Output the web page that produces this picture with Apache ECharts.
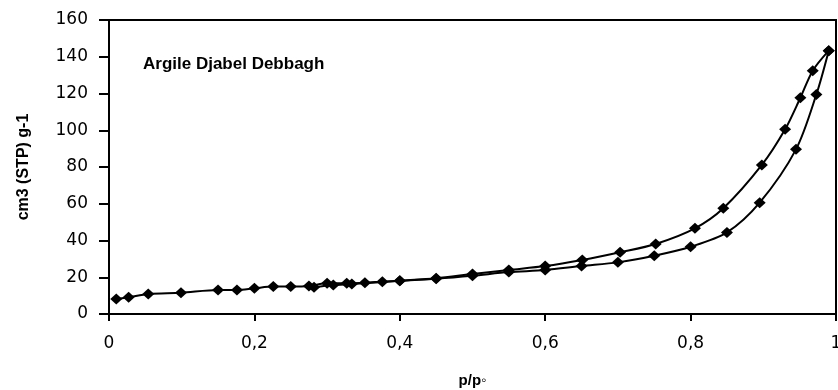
<!DOCTYPE html>
<html>
<head>
<meta charset="utf-8">
<script src="https://cdn.jsdelivr.net/npm/echarts@6/dist/echarts.min.js"></script>
<style>
  html, body { margin: 0; padding: 0; background: #fff; }
  #chart { width: 838px; height: 390px; }
</style>
</head>
<body>
<div id="chart"></div>
<script>
// Nitrogen isotherm of the Djabel Debbagh clay: adsorption and desorption branches
const adsorptionP = [0.01, 0.027, 0.054, 0.099, 0.15, 0.176, 0.2, 0.226, 0.25, 0.275, 0.3, 0.327, 0.352, 0.376, 0.4, 0.45, 0.5, 0.55, 0.6, 0.65, 0.7, 0.75, 0.8, 0.85, 0.895, 0.945, 0.973, 0.99];
const adsorptionV = [8.2, 9.1, 10.9, 11.6, 13.1, 13.1, 14.0, 14.9, 14.9, 15.2, 16.7, 16.7, 17.0, 17.6, 18.1, 19.2, 20.8, 22.8, 23.9, 26.1, 28.1, 31.7, 36.6, 44.4, 60.6, 89.6, 119.5, 143.3];

const desorptionP = [0.99, 0.968, 0.951, 0.93, 0.898, 0.845, 0.806, 0.752, 0.703, 0.651, 0.6, 0.55, 0.5, 0.45, 0.4, 0.334, 0.3085, 0.282];
const desorptionV = [143.3, 132.4, 117.7, 100.5, 81.1, 57.5, 46.6, 38.1, 33.6, 29.4, 26.1, 24.0, 21.8, 19.5, 18.1, 16.3, 15.8, 14.5];

const xTicks = { min: 0, max: 1, interval: 0.2 };
const yTicks = { min: 0, max: 160, interval: 20 };

const pairs = (xs, ys) => xs.map((x, i) => [x, ys[i]]);

const chart = echarts.init(document.getElementById('chart'));

const lineSeries = (name, xs, ys) => ({
  name: name,
  type: 'line',
  data: pairs(xs, ys),
  smooth: 0.3,
  symbol: 'diamond',
  symbolSize: [12, 11],
  itemStyle: { color: '#000' },
  lineStyle: { color: '#000', width: 2 },
  emphasis: { disabled: true }
});

chart.setOption({
  animation: false,
  backgroundColor: '#fff',
  title: {
    text: 'Argile Djabel Debbagh',
    left: 138,
    top: 51,
    textStyle: { fontFamily: 'Liberation Sans', fontWeight: 'bold', fontSize: 17, color: '#000' }
  },
  grid: {
    left: 109, right: 2, top: 20, bottom: 76,
    outerBoundsMode: 'none',
    containLabel: false,
    show: true, borderColor: '#000', borderWidth: 2, backgroundColor: 'transparent'
  },
  xAxis: {
    type: 'value',
    min: xTicks.min, max: xTicks.max, interval: xTicks.interval,
    name: 'p/p\u25E6',
    nameLocation: 'middle',
    nameGap: 59,
    nameTextStyle: { fontFamily: 'Liberation Sans', fontWeight: 'bold', fontSize: 15, color: '#000' },
    axisLine: { lineStyle: { color: '#000', width: 2 } },
    axisTick: { show: true, length: 7, lineStyle: { color: '#000', width: 2 } },
    axisLabel: {
      margin: 21,
      color: '#000',
      fontFamily: 'DejaVu Sans',
      fontSize: 17,
      formatter: v => (v === 0 || v === 1) ? String(v) : v.toFixed(1).replace('.', ',')
    },
    splitLine: { show: false }
  },
  yAxis: {
    type: 'value',
    min: yTicks.min, max: yTicks.max, interval: yTicks.interval,
    name: 'cm3 (STP) g-1',
    nameLocation: 'middle',
    nameGap: 77,
    nameRotate: 90,
    nameTextStyle: { fontFamily: 'Liberation Sans', fontWeight: 'bold', fontSize: 16, color: '#000' },
    axisLine: { show: true, lineStyle: { color: '#000', width: 2 } },
    axisTick: { show: true, length: 10, lineStyle: { color: '#000', width: 2 } },
    axisLabel: {
      margin: 21,
      color: '#000',
      fontFamily: 'DejaVu Sans',
      fontSize: 17
    },
    splitLine: { show: false }
  },
  series: [
    lineSeries('Adsorption', adsorptionP, adsorptionV),
    lineSeries('Désorption', desorptionP, desorptionV)
  ]
});
</script>
</body>
</html>
